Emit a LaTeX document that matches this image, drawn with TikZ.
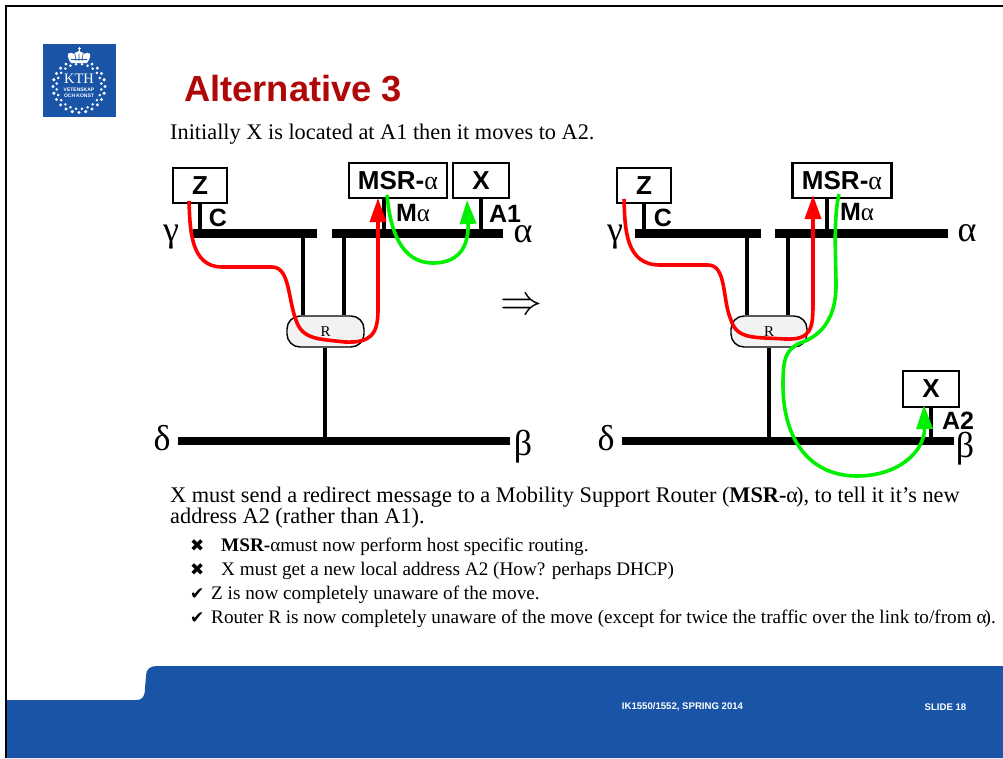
\documentclass[tikz,border=0pt]{standalone}
\usepackage{fontspec}
\setmainfont{Liberation Serif}
\setsansfont{Liberation Sans}
\newfontfamily\symbfont{DejaVu Sans}
\usetikzlibrary{calc, arrows.meta}
\definecolor{kthblue}{HTML}{1954A6}
\definecolor{titlered}{HTML}{B00808}
\definecolor{routegreen}{HTML}{00F000}
\tikzset{
    hostbox/.style={draw, line width=2.4pt, fill=white, inner sep=0pt, font=\sffamily\bfseries\fontsize{26}{26}\selectfont},
    addr/.style={inner sep=0pt, font=\sffamily\bfseries\fontsize{25}{25}\selectfont},
    netname/.style={inner sep=0pt, font=\fontsize{36}{36}\selectfont},
    router/.style={draw, line width=1.4pt, fill=black!5, rounded corners=13pt, inner sep=0pt, font=\fontsize{15}{15}\selectfont},
    bus/.style={line width=8.5pt},
    stub/.style={line width=4pt},
    redroute/.style={red, line width=3.6pt, -{Triangle[length=24pt,width=16pt]}},
    greenroute/.style={routegreen, line width=3.6pt, -{Triangle[length=24pt,width=16pt]}},
    bodytext/.style={anchor=base west, inner sep=0pt, align=left},
    itemtext/.style={anchor=base west, inner sep=0pt, font=\fontsize{19.2}{21}\selectfont},
    itemmark/.style={anchor=base west, inner sep=0pt, font=\symbfont\fontsize{17}{17}\selectfont},
    footertext/.style={white, inner sep=0pt, font=\sffamily\bfseries\fontsize{9.6}{11}\selectfont}
}
\begin{document}
\begin{tikzpicture}[x=1pt,y=-1pt]
    \useasboundingbox (0,0) rectangle (1003,758);

    % slide frame and footer
    \draw[line width=2.4pt] (6,758) -- (6,6) -- (1003,6);
    \fill[kthblue] (7,700) -- (136,700) .. controls (143,700) and (145,696) .. (145,688) -- (146,676)
        .. controls (146,669) and (150,666) .. (157,666) -- (1003,666) -- (1003,758) -- (7,758) -- cycle;
    \node[footertext] (course) at (682.5,707) {IK1550/1552, SPRING 2014};
    \node[footertext] (slideno) at (945.5,707) {SLIDE 18};

    % logo
    \fill[kthblue] (43,44) rectangle (116,117);
    \foreach \a in {0,15,...,345} {
        \fill[white] ($(79,86.5)+(\a:26)$) circle (1.7pt);
        \fill[white] ($(79,86.5)+(\a+7.5:22.5)$) circle (1.4pt);
    }
    \fill[kthblue] (66,47) rectangle (92,63);
    \fill[white] (71,63) .. controls (64,53) and (70,51) .. (74,54) .. controls (75,51) and (83,51) .. (84,54)
        .. controls (88,51) and (94,53) .. (87,63) -- cycle;
    \fill[white] (79,52) circle (1.6pt);
    \draw[white, line width=0.9pt] (79,47) -- (79,51) (77.5,48.5) -- (80.5,48.5);
    \draw[kthblue, line width=0.6pt] (75,54) -- (76,61) (83,54) -- (82,61) (79,54) -- (79,61) (71,59.5) -- (87,59.5);
    \node[white, inner sep=0pt, font=\fontsize{14.5}{15}\selectfont] (kth) at (79,79) {KTH};
    \node[white, inner sep=0pt, font=\sffamily\bfseries\fontsize{5}{5}\selectfont] (vet) at (79,90) {VETENSKAP};
    \node[white, inner sep=0pt, font=\sffamily\bfseries\fontsize{5}{5}\selectfont] (och) at (79,96) {OCH KONST};

    % title and first line
    \node[bodytext, text=titlered, font=\sffamily\bfseries\fontsize{36.3}{36}\selectfont] (title) at (184,101) {Alternative 3};
    \node[bodytext, font=\fontsize{22.3}{24}\selectfont] (intro) at (170,139) {Initially X is located at A1 then it moves to A2.};

    % left network
    \coordinate (C1) at (200,233.5);
    \coordinate (M1) at (384,233.5);
    \coordinate (A1) at (481,233.5);
    \coordinate (V1) at (303,233.5);
    \coordinate (W1) at (344,233.5);
    \coordinate (S1) at (325,441);

    \draw[bus] (193,233.5) -- (317,233.5);
    \draw[bus] (332,233.5) -- (503,233.5);
    \draw[bus] (178,441) -- (510,441);

    \node[hostbox, minimum width=54pt, minimum height=35pt] (Z1) at (200,185.5) {Z};
    \node[hostbox, minimum width=98pt, minimum height=35pt] (MSR1) at (398,180.5) {MSR-{\rmfamily\mdseries α}};
    \node[hostbox, minimum width=56pt, minimum height=35pt] (X1) at (481,180.5) {X};
    \node[router, minimum width=77pt, minimum height=31pt] (R1) at (325.5,331.5) {R};

    \draw[stub] (C1) -- (C1 |- Z1.south);
    \draw[stub] (M1) -- (M1 |- MSR1.south);
    \draw[stub] (A1) -- (A1 |- X1.south);
    \draw[stub] (V1) -- (V1 |- R1.north);
    \draw[stub] (W1) -- (W1 |- R1.north);
    \draw[stub] (R1.south -| S1) -- (S1);

    \node[addr] (C1l) at (218,218) {C};
    \node[addr] (M1l) at (413,213) {M{\rmfamily\mdseries α}};
    \node[addr] (A1l) at (505,214) {A1};
    \node[netname] (g1) at (171,237) {γ};
    \node[netname] (a1) at (523,234) {α};
    \node[netname] (d1) at (162,438) {δ};
    \node[netname] (b1) at (523,447) {β};

    \coordinate (RS1) at (189,201);
    \coordinate (RT1) at (378,198);
    \coordinate (GS1) at (387,195);
    \coordinate (GT1) at (467,200);
    \draw[redroute] (RS1) .. controls (190,228) and (190,267) .. (222,267) -- (272,267)
        .. controls (290,267) and (288,300) .. (296,320) .. controls (302,340) and (320,339) .. (345,342)
        .. controls (370,343) and (378,335) .. (378,310) -- (RT1);
    \draw[greenroute] (GS1) .. controls (390,228) and (400,263) .. (433,263) .. controls (460,263) and (469,245) .. (GT1);

    \node[inner sep=0pt] (move) at (521,307) {\scalebox{4.2}{$\Rightarrow$}};

    % right network
    \coordinate (C2) at (644,233.5);
    \coordinate (M2) at (827,233.5);
    \coordinate (V2) at (747,233.5);
    \coordinate (W2) at (788,233.5);
    \coordinate (S2) at (769,441);
    \coordinate (A2) at (931,441);

    \draw[bus] (635,233.5) -- (761,233.5);
    \draw[bus] (775,233.5) -- (948,233.5);
    \draw[bus] (622,441) -- (954,441);

    \node[hostbox, minimum width=54pt, minimum height=35pt] (Z2) at (644,185.5) {Z};
    \node[hostbox, minimum width=99pt, minimum height=35pt] (MSR2) at (842,180.5) {MSR-{\rmfamily\mdseries α}};
    \node[hostbox, minimum width=56pt, minimum height=36pt] (X2) at (931,389) {X};
    \node[router, minimum width=76pt, minimum height=31pt] (R2) at (769,331.5) {R};

    \draw[stub] (C2) -- (C2 |- Z2.south);
    \draw[stub] (M2) -- (M2 |- MSR2.south);
    \draw[stub] (A2) -- (A2 |- X2.south);
    \draw[stub] (V2) -- (V2 |- R2.north);
    \draw[stub] (W2) -- (W2 |- R2.north);
    \draw[stub] (R2.south -| S2) -- (S2);

    \node[addr] (C2l) at (663,218) {C};
    \node[addr] (M2l) at (857,212) {M{\rmfamily\mdseries α}};
    \node[addr] (A2l) at (958,421) {A2};
    \node[netname] (g2) at (615,237) {γ};
    \node[netname] (a2) at (967,233) {α};
    \node[netname] (d2) at (606,438) {δ};
    \node[netname] (b2) at (965,449) {β};

    \coordinate (RS2) at (624,199);
    \coordinate (RT2) at (813,195);
    \coordinate (GS2) at (839,194);
    \coordinate (GT2) at (924,405);
    \draw[redroute] (RS2) .. controls (625,228) and (625,265) .. (660,265) -- (708,265)
        .. controls (727,265) and (722,300) .. (731,320) .. controls (737,340) and (755,337) .. (785,339)
        .. controls (810,340) and (813,330) .. (813,305) -- (RT2);
    \draw[greenroute] (GS2) .. controls (833,220) and (836,260) .. (836,285) .. controls (836,325) and (815,338) .. (800,343)
        .. controls (785,350) and (783,360) .. (783,385) .. controls (783,440) and (810,476) .. (857,476)
        .. controls (900,476) and (925,450) .. (GT2);

    % text below the networks
    \node[bodytext, font=\fontsize{22.3}{21}\selectfont] (para) at (170,523) {X must send a redirect message to a Mobility Support Router (\textbf{MSR-}α\kern-2pt), to tell it it’s new\\address A2 (rather than A1).};

    \node[itemmark] (no1) at (190,551) {✖};
    \node[itemtext] (item1) at (221,551) {\textbf{MSR-}αmust now perform host specific routing.};
    \node[itemmark] (no2) at (190,575) {✖};
    \node[itemtext] (item2) at (221,575) {X must get a new local address A2 (How? perhaps DHCP)};
    \node[itemmark] (yes1) at (190,599) {✔};
    \node[itemtext] (item3) at (211,599) {Z is now completely unaware of the move.};
    \node[itemmark] (yes2) at (190,623) {✔};
    \node[itemtext] (item4) at (211,623) {Router R is now completely unaware of the move (except for twice the traffic over the link to/from α\kern-2pt).};
\end{tikzpicture}
\end{document}
